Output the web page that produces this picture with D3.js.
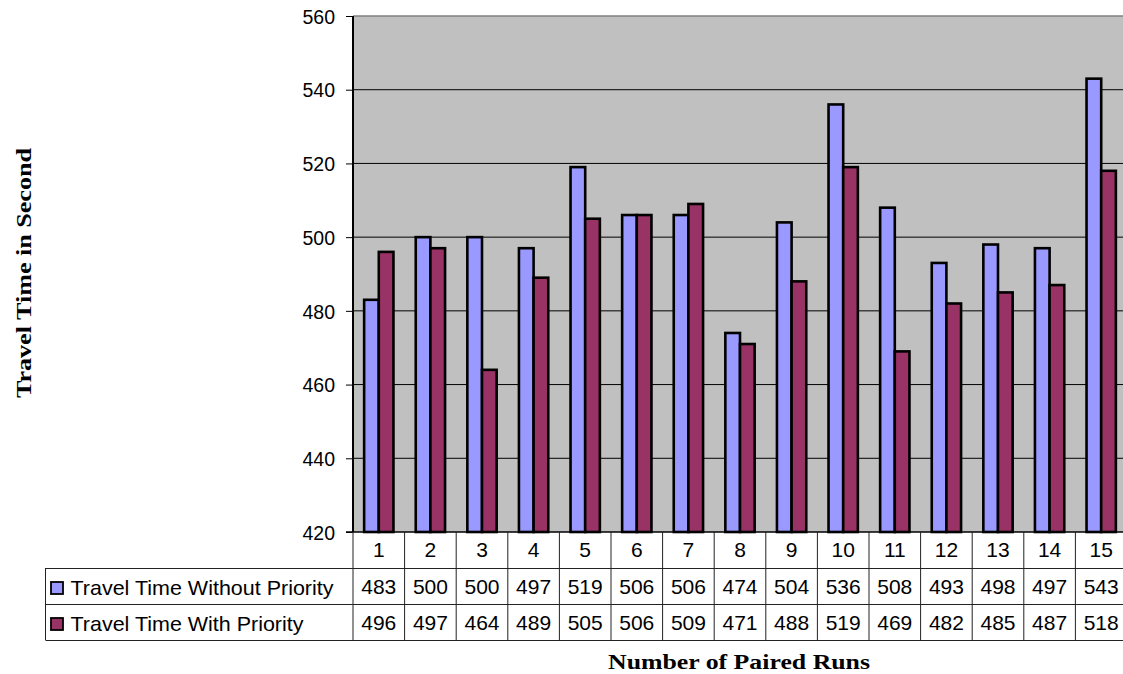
<!DOCTYPE html>
<html>
<head>
<meta charset="utf-8">
<script src="https://cdn.jsdelivr.net/npm/d3@7"></script>
<style>
  html, body { margin: 0; padding: 0; background: #ffffff; }
  svg { display: block; }
</style>
</head>
<body>
<svg id="chart" width="1123" height="674"></svg>
<script>
// Paired runs and travel times (seconds)
const runs = ["1","2","3","4","5","6","7","8","9","10","11","12","13","14","15"];
const seriesNames = ["Travel Time Without Priority", "Travel Time With Priority"];
const withoutPriority = [483, 500, 500, 497, 519, 506, 506, 474, 504, 536, 508, 493, 498, 497, 543];
const withPriority    = [496, 497, 464, 489, 505, 506, 509, 471, 488, 519, 469, 482, 485, 487, 518];
const yTicks = [420, 440, 460, 480, 500, 520, 540, 560];
const seriesColors = ["#9999FF", "#993366"];

const svg = d3.select("#chart");
const plotLeft = 353, plotTop = 16, plotBottom = 532;
const colW = 51.6;
const plotRight = plotLeft + colW * runs.length;
const font = "Liberation Sans, Arial, sans-serif";
const serif = "Liberation Serif, Times New Roman, serif";

const x0 = d3.scaleBand().domain(runs).range([plotLeft, plotRight]).padding(0);
const x1 = d3.scaleBand().domain(seriesNames).range([0, x0.bandwidth()])
  .paddingInner(0).paddingOuter(0.76);
const y = d3.scaleLinear().domain([420, 560]).range([plotBottom, plotTop]);

const series = [withoutPriority, withPriority];

// plot background
svg.append("rect")
  .attr("x", plotLeft).attr("y", plotTop)
  .attr("width", plotRight - plotLeft).attr("height", plotBottom - plotTop)
  .attr("fill", "#C0C0C0");

// gridlines
svg.append("g").selectAll("line")
  .data(yTicks.filter(t => t > 420 && t < 560))
  .join("line")
  .attr("x1", plotLeft).attr("x2", plotRight)
  .attr("y1", d => y(d)).attr("y2", d => y(d))
  .attr("stroke", "#000").attr("stroke-width", 1);

// top border
svg.append("line")
  .attr("x1", plotLeft).attr("x2", plotRight)
  .attr("y1", y(560)).attr("y2", y(560))
  .attr("stroke", "#808080").attr("stroke-width", 1.5);

// bars
const barG = svg.append("g");
runs.forEach((r, i) => {
  seriesNames.forEach((s, k) => {
    const v = series[k][i];
    barG.append("rect")
      .attr("x", x0(r) + x1(s))
      .attr("y", y(v))
      .attr("width", x1.bandwidth())
      .attr("height", y(420) - y(v))
      .attr("fill", seriesColors[k])
      .attr("stroke", "#000")
      .attr("stroke-width", 2.6);
  });
});

// y axis
const yAxis = d3.axisLeft(y).tickValues(yTicks).tickSize(7).tickPadding(11);
const yg = svg.append("g").attr("transform", `translate(${plotLeft},0)`).call(yAxis);
yg.select(".domain").remove();
yg.selectAll(".tick line").attr("stroke", "#000");
yg.selectAll(".tick text")
  .attr("font-family", font)
  .attr("font-size", 19.5).attr("fill", "#000")
  .attr("dy", "0.37em");
svg.append("line")
  .attr("x1", plotLeft).attr("x2", plotLeft)
  .attr("y1", plotTop).attr("y2", plotBottom)
  .attr("stroke", "#000").attr("stroke-width", 2);

// data table
const rowTops = [532, 568, 604, 640];
const legendLeft = 45.5;
const table = svg.append("g");
const lineColor = "#222";
const tableFont = 21;

// horizontal rules
table.append("line").attr("x1", plotLeft - 7).attr("x2", plotRight)
  .attr("y1", rowTops[0]).attr("y2", rowTops[0]).attr("stroke", "#000").attr("stroke-width", 1.5);
[1, 2, 3].forEach(i => {
  table.append("line").attr("x1", legendLeft).attr("x2", plotRight)
    .attr("y1", rowTops[i] + 0.5).attr("y2", rowTops[i] + 0.5)
    .attr("stroke", lineColor).attr("stroke-width", 1);
});
// vertical rules
table.append("line").attr("x1", legendLeft).attr("x2", legendLeft)
  .attr("y1", rowTops[1]).attr("y2", rowTops[3]).attr("stroke", lineColor);
runs.forEach(r => {
  table.append("line").attr("x1", x0(r)).attr("x2", x0(r))
    .attr("y1", rowTops[0]).attr("y2", rowTops[3]).attr("stroke", lineColor);
});

// category labels
table.append("g").selectAll("text").data(runs).join("text")
  .attr("x", d => x0(d) + x0.bandwidth() / 2)
  .attr("y", (rowTops[0] + rowTops[1]) / 2 + 7)
  .attr("text-anchor", "middle")
  .attr("font-family", font).attr("font-size", tableFont)
  .text(d => d);

// value rows with legend keys
const legendWidths = [263, 233];
series.forEach((vals, k) => {
  const top = rowTops[k + 1], bot = rowTops[k + 2];
  const mid = (top + bot) / 2;
  table.append("g").selectAll("text").data(vals).join("text")
    .attr("x", (d, i) => x0(runs[i]) + x0.bandwidth() / 2)
    .attr("y", mid + 7.5)
    .attr("text-anchor", "middle")
    .attr("font-family", font).attr("font-size", tableFont)
    .text(d => d);
  table.append("rect")
    .attr("x", 51).attr("y", mid - 4)
    .attr("width", 12).attr("height", 12)
    .attr("fill", seriesColors[k]).attr("stroke", "#000").attr("stroke-width", 1.8);
  table.append("text")
    .attr("x", 70.5).attr("y", mid + 8.5)
    .attr("font-family", font).attr("font-size", tableFont)
    .attr("textLength", legendWidths[k]).attr("lengthAdjust", "spacingAndGlyphs")
    .text(seriesNames[k]);
});

// axis titles
svg.append("text")
  .attr("x", 739).attr("y", 669)
  .attr("text-anchor", "middle")
  .attr("font-family", serif)
  .attr("font-weight", "bold").attr("font-size", 21.5)
  .attr("textLength", 262).attr("lengthAdjust", "spacingAndGlyphs")
  .text("Number of Paired Runs");
svg.append("text")
  .attr("transform", "translate(31,273) rotate(-90)")
  .attr("text-anchor", "middle")
  .attr("font-family", serif)
  .attr("font-weight", "bold").attr("font-size", 21.5)
  .attr("textLength", 250).attr("lengthAdjust", "spacingAndGlyphs")
  .text("Travel Time in Second");
</script>
</body>
</html>
